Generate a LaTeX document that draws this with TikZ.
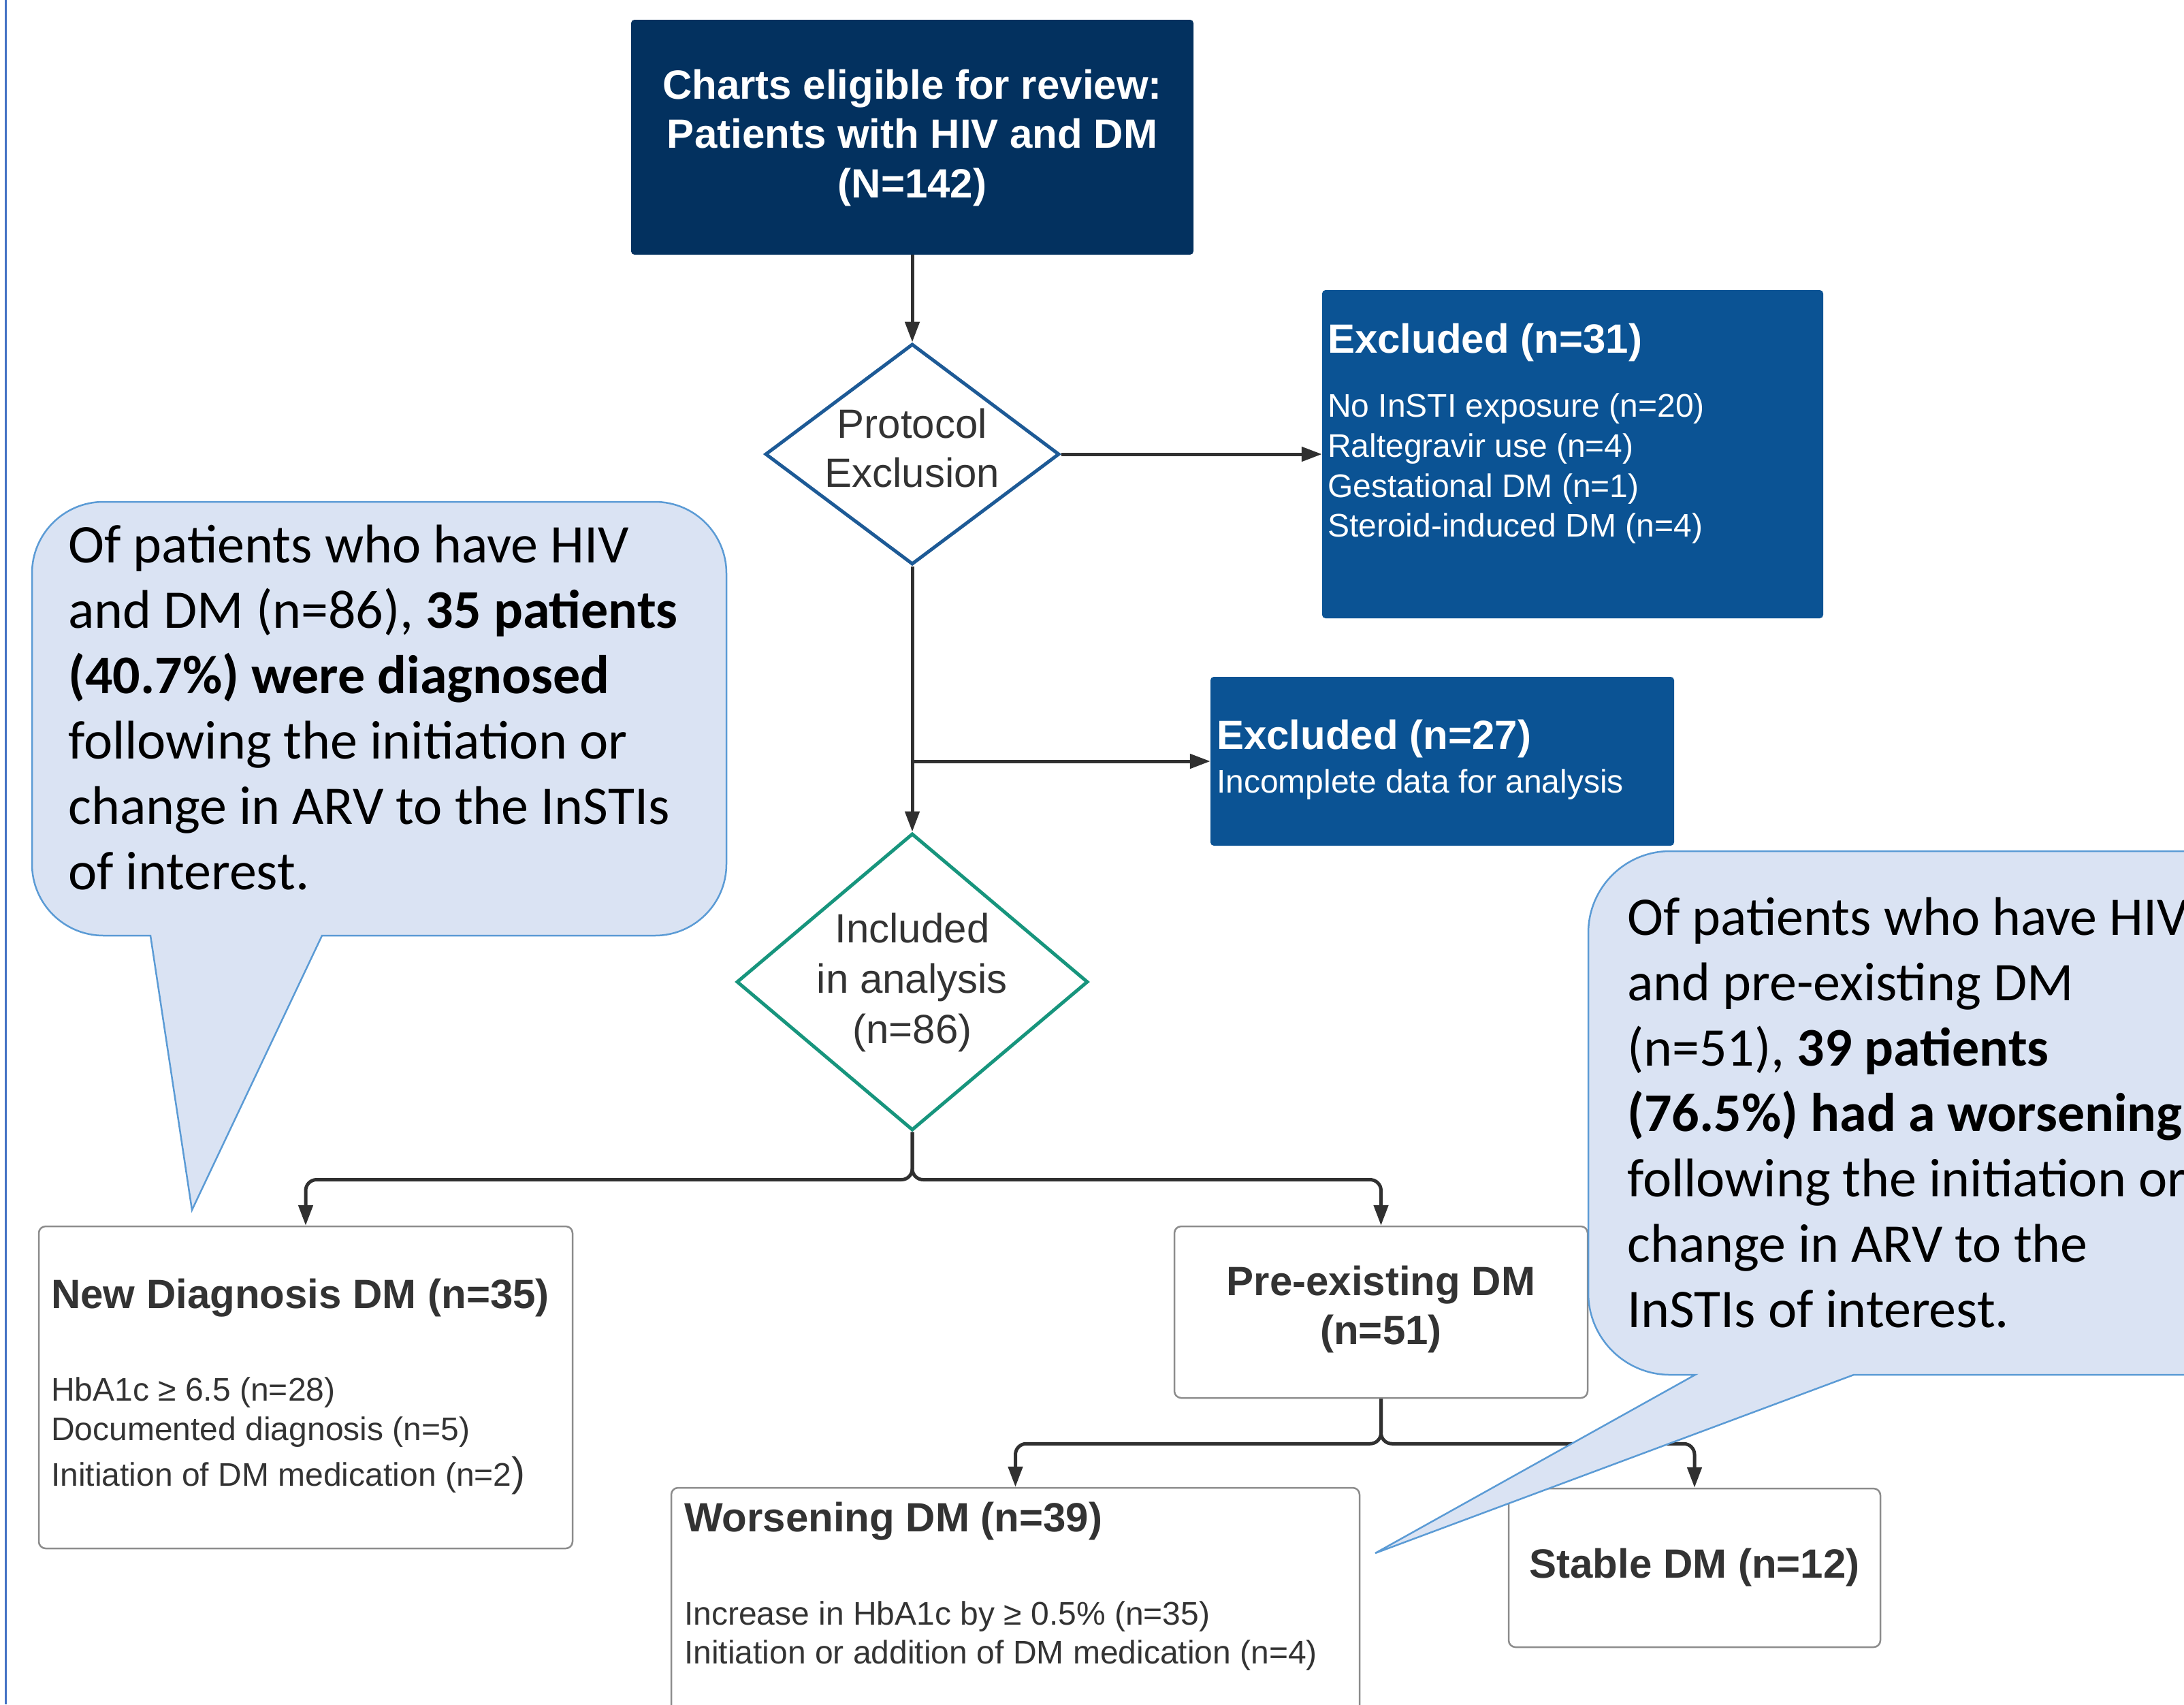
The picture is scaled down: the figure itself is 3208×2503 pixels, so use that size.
\documentclass[tikz,border=0pt]{standalone}
\usepackage{fontspec}
\setmainfont{Liberation Sans}
\newfontfamily\calib{Carlito}
\usetikzlibrary{shapes.geometric,arrows.meta}
\definecolor{navy}{HTML}{03315F}
\definecolor{exblue}{HTML}{0B5394}
\definecolor{diablue}{HTML}{1D5A96}
\definecolor{diateal}{HTML}{17957D}
\definecolor{txtgray}{HTML}{333333}
\definecolor{boxgray}{HTML}{8C8C8C}
\definecolor{connc}{HTML}{303030}
\definecolor{callfill}{HTML}{DAE3F3}
\definecolor{callline}{HTML}{5B9BD5}
\definecolor{leftblue}{HTML}{4472C4}
\newcommand\natsp{\spaceskip=\fontdimen2\font\xspaceskip=\fontdimen2\font\relax}
\begin{document}
\begin{tikzpicture}[x=1pt,y=-1pt,
  conn/.style={draw=connc, line width=5pt, rounded corners=16pt},
  arr/.style={conn, -{Triangle[length=30pt,width=21pt]}},
  darkbox/.style={rectangle, rounded corners=5pt, draw=none, inner sep=0pt},
  whitebox/.style={rectangle, rounded corners=10pt, draw=boxgray, line width=2.5pt, fill=white, inner sep=0pt},
  dia/.style={diamond, inner sep=0pt, line width=5pt, fill=white},
  tsmall/.style={font=\fontsize{48}{58.8}\selectfont},
  ttl/.style={inner sep=0pt, text width=1000pt, align=left, anchor=base west, execute at begin node=\natsp},
  ttc/.style={inner sep=0pt, text width=1000pt, align=center, anchor=base, execute at begin node=\natsp},
  callout/.style={fill=callfill, draw=callline, line width=2.5pt, line join=miter},
  calltext/.style={inner sep=0pt, text width=1300pt, align=left, anchor=base west, execute at begin node=\natsp, font=\calib\fontsize{80}{96}\selectfont}
]
\clip (0,0) rectangle (3208,2503);
\useasboundingbox (0,0) rectangle (3208,2503);
\fill[white] (0,0) rectangle (3208,2503);
\draw[leftblue, line width=3pt] (8.5,0) -- (8.5,2503);

% boxes
\node[darkbox, fill=navy, minimum width=826pt, minimum height=345pt] (top) at (1340,201.5) {};
\node[dia, draw=diablue, minimum width=432pt, minimum height=324pt] (prot) at (1340,667) {};
\node[darkbox, fill=exblue, minimum width=736pt, minimum height=482pt] (ex31) at (2310,667) {};
\node[darkbox, fill=exblue, minimum width=681pt, minimum height=248pt] (ex27) at (2118.5,1118) {};
\node[dia, draw=diateal, minimum width=516pt, minimum height=436pt] (incl) at (1340,1442) {};
\node[whitebox, minimum width=784pt, minimum height=473pt] (newdx) at (449,2037.5) {};
\node[whitebox, minimum width=607pt, minimum height=252pt] (pre) at (2028.5,1927) {};
\node[whitebox, minimum width=1011pt, minimum height=375pt] (wors) at (1491.5,2372.5) {};
\node[whitebox, minimum width=546pt, minimum height=233pt] (stab) at (2489,2302.5) {};

% texts
\node[ttc, text=white, font=\bfseries\fontsize{60}{72.5}\selectfont] (toptxt) at (1340,145)
  {Charts eligible for review:\\Patients with HIV and DM\\(N=142)};
\node[ttc, text=txtgray, font=\fontsize{60}{72}\selectfont] (prottxt) at (1340,643) {Protocol\\Exclusion};
\node[ttc, text=txtgray, font=\fontsize{60}{74}\selectfont] (incltxt) at (1340,1384) {Included\\in analysis\\(n=86)};
\node[ttl, text=white, font=\bfseries\fontsize{60}{72}\selectfont] (ex31t) at (1950,518) {Excluded (n=31)};
\node[ttl, tsmall, text=white] (ex31l) at (1950,612.5)
  {No InSTI exposure (n=20)\\Raltegravir use (n=4)\\Gestational DM (n=1)\\Steroid-induced DM (n=4)};
\node[ttl, text=white, font=\bfseries\fontsize{60}{72}\selectfont] (ex27t) at (1787,1100) {Excluded (n=27)};
\node[ttl, tsmall, text=white] (ex27l) at (1787,1164) {Incomplete data for analysis};
\node[ttl, text=txtgray, font=\bfseries\fontsize{60}{72}\selectfont] (newdxt) at (75,1921) {New Diagnosis DM (n=35)};
\node[ttl, tsmall, text=txtgray] (newdxl) at (75,2057)
  {HbA1c ≥ 6.5 (n=28)\\Documented diagnosis (n=5)\\[8pt]Initiation of DM medication (n=2{\fontsize{60}{72}\selectfont )}};
\node[ttc, text=txtgray, font=\bfseries\fontsize{60}{72}\selectfont] (pret) at (2028.5,1902) {Pre-existing DM\\(n=51)};
\node[ttl, text=txtgray, font=\bfseries\fontsize{60}{72}\selectfont] (worst) at (1005,2249) {Worsening DM (n=39)};
\node[ttl, text=txtgray, font=\fontsize{48}{57}\selectfont] (worsl) at (1005,2386)
  {Increase in HbA1c by ≥ 0.5\% (n=35)\\Initiation or addition of DM medication (n=4)};
\node[ttc, text=txtgray, font=\bfseries\fontsize{60}{72}\selectfont] (stabt) at (2489,2317) {Stable DM (n=12)};

% connectors
\draw[arr] (top.south) -- (prot.north);
\draw[arr] (prot.east) -- (ex31.west);
\draw[arr] (prot.south) -- (incl.north);
\draw[arr] (prot.south |- ex27.west) -- (ex27.west);
\draw[arr] (incl.south) -- ++(0,70) -| (newdx.north);
\draw[arr] (incl.south) -- ++(0,70) -| (pre.north);
\draw[arr] (pre.south) -- ++(0,66) -| (wors.north);
\draw[arr] (pre.south) -- ++(0,66) -| (stab.north);

% left callout
\draw[callout] (473,1374) -- (962,1374) arc[start angle=90, end angle=0, radius=105]
  -- (1067,842) arc[start angle=0, end angle=-90, radius=105]
  -- (152,737) arc[start angle=-90, end angle=-180, radius=105]
  -- (47,1269) arc[start angle=-180, end angle=-270, radius=105]
  -- (221,1374) -- (282,1777) -- cycle;
\node[calltext] (lct) at (100,826)
  {Of patients who have HIV\\and DM (n=86), \textbf{35 patients}\\\textbf{(40.7\%) were diagnosed}\\following the initiation or\\change in ARV to the InSTIs\\of interest.};

% right callout
\draw[callout] (2723,2019) -- (3400,2019) -- (3400,1250) -- (2453,1250)
  arc[start angle=-90, end angle=-180, radius=120]
  -- (2333,1899) arc[start angle=-180, end angle=-270, radius=120]
  -- (2490,2019) -- (2020,2281) -- cycle;
\node[calltext] (rct) at (2390,1373)
  {Of patients who have HIV\\and pre-existing DM\\(n=51), \textbf{39 patients}\\\textbf{(76.5\%) had a worsening}\\following the initiation or\\change in ARV to the\\InSTIs of interest.};
\end{tikzpicture}
\end{document}
